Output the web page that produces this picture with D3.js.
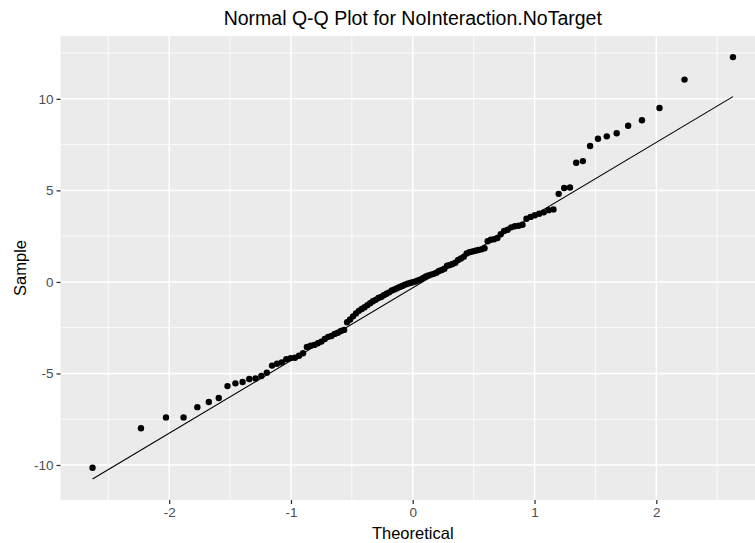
<!DOCTYPE html>
<html>
<head>
<meta charset="utf-8">
<script src="https://cdn.jsdelivr.net/npm/d3@7"></script>
<style>
  html, body { margin: 0; padding: 0; background: #ffffff; }
  svg { display: block; font-family: "Liberation Sans", Arial, sans-serif; }
</style>
</head>
<body>
<svg id="chart" width="755" height="543"></svg>
<script>
// ---- Data (sorted sample values) ----
const sampleValues = [
  -10.15, -7.99, -7.40, -7.40, -6.84, -6.56, -6.34, -5.69, -5.54, -5.47,
  -5.30, -5.27, -5.14, -4.96, -4.57, -4.47, -4.40, -4.22, -4.16, -4.14,
  -4.03, -3.90, -3.55, -3.48, -3.44, -3.35, -3.26, -3.12, -3.00, -2.95,
  -2.84, -2.78, -2.68, -2.62, -2.20, -2.05, -1.88, -1.72, -1.58, -1.48,
  -1.38, -1.27, -1.16, -1.06, -0.98, -0.88, -0.82, -0.73, -0.65, -0.57,
  -0.47, -0.41, -0.35, -0.28, -0.22, -0.15, -0.10, -0.06, -0.02, 0.02,
  0.08, 0.14, 0.22, 0.30, 0.35, 0.40, 0.44, 0.50, 0.60, 0.65,
  0.72, 0.88, 0.92, 0.98, 1.05, 1.20, 1.28, 1.38, 1.55, 1.62,
  1.66, 1.70, 1.74, 1.78, 1.84, 2.22, 2.30, 2.33, 2.40, 2.60,
  2.78, 2.85, 2.98, 3.04, 3.07, 3.12, 3.45, 3.55, 3.64, 3.72,
  3.80, 3.92, 3.96, 4.81, 5.13, 5.16, 6.51, 6.60, 7.42, 7.82,
  7.95, 8.12, 8.53, 8.83, 9.50, 11.05, 12.28
];
// Reference line
const qqLineSlope = 3.97;
const qqLineIntercept = -0.32;

const xTicks = [-2, -1, 0, 1, 2];
const xMinorTicks = [-2.5, -1.5, -0.5, 0.5, 1.5, 2.5];
const yTicks = [-10, -5, 0, 5, 10];
const yMinorTicks = [-7.5, -2.5, 2.5, 7.5, 12.5];

const titleText = "Normal Q-Q Plot for NoInteraction.NoTarget";
const xTitle = "Theoretical";
const yTitle = "Sample";

// ---- Theoretical normal quantiles (as stat_qq computes them) ----
function qnorm(p) {
  const a = [-3.969683028665376e+01, 2.209460984245205e+02, -2.759285104469687e+02,
             1.383577518672690e+02, -3.066479806614716e+01, 2.506628277459239e+00];
  const b = [-5.447609879822406e+01, 1.615858368580409e+02, -1.556989798598866e+02,
             6.680131188771972e+01, -1.328068155288572e+01];
  const c = [-7.784894002430293e-03, -3.223964580411365e-01, -2.400758277161838e+00,
             -2.549732539343734e+00, 4.374664141464968e+00, 2.938163982698783e+00];
  const d = [7.784695709041462e-03, 3.224671290700398e-01, 2.445134137142996e+00,
             3.754408661907416e+00];
  const pl = 0.02425, ph = 1 - pl;
  let q, r;
  if (p < pl) {
    q = Math.sqrt(-2 * Math.log(p));
    return (((((c[0]*q+c[1])*q+c[2])*q+c[3])*q+c[4])*q+c[5]) /
           ((((d[0]*q+d[1])*q+d[2])*q+d[3])*q+1);
  } else if (p <= ph) {
    q = p - 0.5; r = q * q;
    return (((((a[0]*r+a[1])*r+a[2])*r+a[3])*r+a[4])*r+a[5])*q /
           (((((b[0]*r+b[1])*r+b[2])*r+b[3])*r+b[4])*r+1);
  } else {
    q = Math.sqrt(-2 * Math.log(1 - p));
    return -(((((c[0]*q+c[1])*q+c[2])*q+c[3])*q+c[4])*q+c[5]) /
            ((((d[0]*q+d[1])*q+d[2])*q+d[3])*q+1);
  }
}
const n = sampleValues.length;
const points = sampleValues.map((v, i) => ({ x: qnorm((i + 1 - 0.5) / n), y: v }));

// ---- Layout ----
const svg = d3.select("#chart");
const panel = { left: 60.5, top: 36, right: 765, bottom: 500 };

const xExt = d3.extent(points, d => d.x);
const lineYs = xExt.map(x => qqLineIntercept + qqLineSlope * x);
const yAll = points.map(d => d.y).concat(lineYs);
const yExt = d3.extent(yAll);
const xPad = (xExt[1] - xExt[0]) * 0.05;
const yPad = (yExt[1] - yExt[0]) * 0.05;

const x = d3.scaleLinear().domain([xExt[0] - xPad, xExt[1] + xPad]).range([panel.left, panel.right]);
const y = d3.scaleLinear().domain([yExt[0] - yPad, yExt[1] + yPad]).range([panel.bottom, panel.top]);

const clipW = panel.right - panel.left, clipH = panel.bottom - panel.top;
svg.append("defs").append("clipPath").attr("id", "pclip")
  .append("rect").attr("x", panel.left).attr("y", panel.top).attr("width", clipW).attr("height", clipH);

svg.append("rect")
  .attr("x", panel.left).attr("y", panel.top)
  .attr("width", clipW).attr("height", clipH)
  .attr("fill", "#EBEBEB");

const grid = svg.append("g").attr("clip-path", "url(#pclip)");
grid.selectAll("line.xminor").data(xMinorTicks).join("line")
  .attr("x1", d => x(d)).attr("x2", d => x(d))
  .attr("y1", panel.top).attr("y2", panel.bottom)
  .attr("stroke", "#ffffff").attr("stroke-width", 0.8);
grid.selectAll("line.yminor").data(yMinorTicks).join("line")
  .attr("y1", d => y(d)).attr("y2", d => y(d))
  .attr("x1", panel.left).attr("x2", panel.right)
  .attr("stroke", "#ffffff").attr("stroke-width", 0.8);
grid.selectAll("line.xmajor").data(xTicks).join("line")
  .attr("x1", d => x(d)).attr("x2", d => x(d))
  .attr("y1", panel.top).attr("y2", panel.bottom)
  .attr("stroke", "#ffffff").attr("stroke-width", 1.5);
grid.selectAll("line.ymajor").data(yTicks).join("line")
  .attr("y1", d => y(d)).attr("y2", d => y(d))
  .attr("x1", panel.left).attr("x2", panel.right)
  .attr("stroke", "#ffffff").attr("stroke-width", 1.5);

// ---- Marks ----
const marks = svg.append("g").attr("clip-path", "url(#pclip)");
marks.selectAll("circle").data(points).join("circle")
  .attr("cx", d => x(d.x)).attr("cy", d => y(d.y))
  .attr("r", 3.2).attr("fill", "#000000");

marks.append("path")
  .datum(xExt.map(v => ({ x: v, y: qqLineIntercept + qqLineSlope * v })))
  .attr("d", d3.line().x(d => x(d.x)).y(d => y(d.y)))
  .attr("fill", "none").attr("stroke", "#000000").attr("stroke-width", 1.1);

// ---- Axes ----
const xAxis = svg.append("g")
  .attr("transform", `translate(0,${panel.bottom})`)
  .call(d3.axisBottom(x).tickValues(xTicks).tickSize(4).tickPadding(3.5).tickFormat(d3.format("d")));
const yAxis = svg.append("g")
  .attr("transform", `translate(${panel.left},0)`)
  .call(d3.axisLeft(y).tickValues(yTicks).tickSize(4).tickPadding(3).tickFormat(d3.format("d")));
[xAxis, yAxis].forEach(ax => {
  ax.select(".domain").remove();
  ax.selectAll(".tick line").attr("stroke", "#333333").attr("stroke-width", 1.3);
  ax.selectAll(".tick text").attr("fill", "#4D4D4D")
    .style("font-size", "13.5px").style("font-family", "Liberation Sans, Arial, sans-serif");
});
xAxis.selectAll(".tick text").text(d => d < 0 ? "-" + Math.abs(d) : String(d));
yAxis.selectAll(".tick text").text(d => d < 0 ? "-" + Math.abs(d) : String(d));

// ---- Titles ----
const cx = (panel.left + panel.right) / 2;
svg.append("text")
  .attr("x", cx).attr("y", 25)
  .attr("text-anchor", "middle")
  .style("font-size", "19.5px").attr("fill", "#000000")
  .text(titleText);
svg.append("text")
  .attr("x", cx).attr("y", 538.5)
  .attr("text-anchor", "middle")
  .style("font-size", "16.5px").attr("fill", "#000000")
  .text(xTitle);
svg.append("text")
  .attr("transform", `translate(26,${(panel.top + panel.bottom) / 2}) rotate(-90)`)
  .attr("text-anchor", "middle")
  .style("font-size", "16.5px").attr("fill", "#000000")
  .text(yTitle);
</script>
</body>
</html>
